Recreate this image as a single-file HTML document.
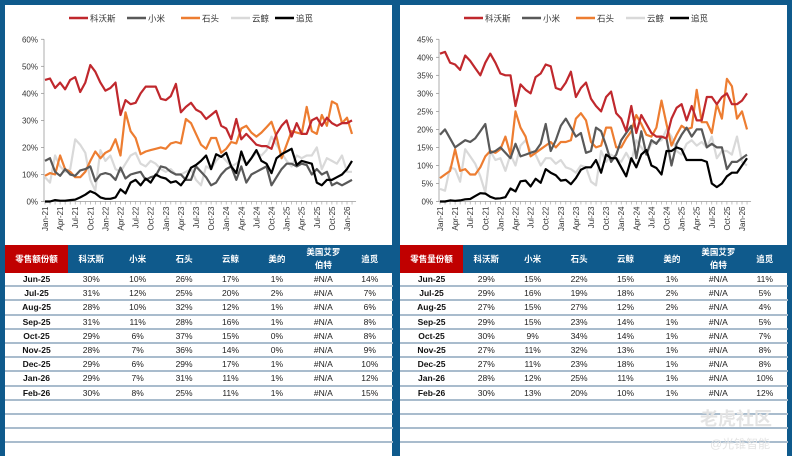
<!DOCTYPE html>
<html><head><meta charset="utf-8">
<style>
body{margin:0;width:792px;height:456px;background:#0f5a8c;position:relative;overflow:hidden;font-family:"Liberation Sans","Noto Sans CJK SC",sans-serif}
.panel{position:absolute;top:5px;width:387px;height:451px;background:#fff}
svg{position:absolute;left:0;top:0}
table{position:absolute;top:240px;left:0;width:388px;border-collapse:collapse;font-size:8.5px;color:#222;table-layout:fixed}
th{background:#0f5a8c;color:#fff;font-weight:bold;height:28px;font-size:8.5px;line-height:13px;padding:0}
th.first{background:#c00000}
td{text-align:center;height:12.2px;padding:0;border-bottom:2px solid #a9bccd;white-space:nowrap}
td.d{font-weight:bold;color:#111}
.wm{position:absolute;color:#e3e3e3;font-family:"Liberation Sans","Noto Sans CJK SC",sans-serif}
</style></head><body>
<div class="panel" style="left:5px">
<svg id="c1" width="387" height="240"></svg>
<table>
<colgroup><col style="width:63px"><col style="width:46.4px"><col style="width:46.4px"><col style="width:46.4px"><col style="width:46.4px"><col style="width:46.4px"><col style="width:46.4px"><col style="width:46.4px"></colgroup>
<tr><th class="first">零售额份额</th><th>科沃斯</th><th>小米</th><th>石头</th><th>云鲸</th><th>美的</th><th>美国艾罗<br>伯特</th><th>追觅</th></tr>
<tr><td class="d">Jun-25</td><td>30%</td><td>10%</td><td>26%</td><td>17%</td><td>1%</td><td>#N/A</td><td>14%</td></tr>
<tr><td class="d">Jul-25</td><td>31%</td><td>12%</td><td>25%</td><td>20%</td><td>2%</td><td>#N/A</td><td>7%</td></tr>
<tr><td class="d">Aug-25</td><td>28%</td><td>10%</td><td>32%</td><td>12%</td><td>1%</td><td>#N/A</td><td>6%</td></tr>
<tr><td class="d">Sep-25</td><td>31%</td><td>11%</td><td>28%</td><td>16%</td><td>1%</td><td>#N/A</td><td>8%</td></tr>
<tr><td class="d">Oct-25</td><td>29%</td><td>6%</td><td>37%</td><td>15%</td><td>0%</td><td>#N/A</td><td>8%</td></tr>
<tr><td class="d">Nov-25</td><td>28%</td><td>7%</td><td>36%</td><td>14%</td><td>0%</td><td>#N/A</td><td>9%</td></tr>
<tr><td class="d">Dec-25</td><td>29%</td><td>6%</td><td>29%</td><td>17%</td><td>1%</td><td>#N/A</td><td>10%</td></tr>
<tr><td class="d">Jan-26</td><td>29%</td><td>7%</td><td>31%</td><td>11%</td><td>1%</td><td>#N/A</td><td>12%</td></tr>
<tr><td class="d">Feb-26</td><td>30%</td><td>8%</td><td>25%</td><td>11%</td><td>1%</td><td>#N/A</td><td>15%</td></tr>
<tr><td colspan="8"></td></tr><tr><td colspan="8"></td></tr><tr><td colspan="8"></td></tr>
</table>
</div>
<div class="panel" style="left:400px">
<svg id="c2" width="387" height="240"></svg>
<table>
<colgroup><col style="width:63px"><col style="width:46.4px"><col style="width:46.4px"><col style="width:46.4px"><col style="width:46.4px"><col style="width:46.4px"><col style="width:46.4px"><col style="width:46.4px"></colgroup>
<tr><th class="first">零售量份额</th><th>科沃斯</th><th>小米</th><th>石头</th><th>云鲸</th><th>美的</th><th>美国艾罗<br>伯特</th><th>追觅</th></tr>
<tr><td class="d">Jun-25</td><td>29%</td><td>15%</td><td>22%</td><td>15%</td><td>1%</td><td>#N/A</td><td>11%</td></tr>
<tr><td class="d">Jul-25</td><td>29%</td><td>16%</td><td>19%</td><td>18%</td><td>2%</td><td>#N/A</td><td>5%</td></tr>
<tr><td class="d">Aug-25</td><td>27%</td><td>15%</td><td>27%</td><td>12%</td><td>2%</td><td>#N/A</td><td>4%</td></tr>
<tr><td class="d">Sep-25</td><td>29%</td><td>15%</td><td>23%</td><td>14%</td><td>1%</td><td>#N/A</td><td>5%</td></tr>
<tr><td class="d">Oct-25</td><td>30%</td><td>9%</td><td>34%</td><td>14%</td><td>1%</td><td>#N/A</td><td>7%</td></tr>
<tr><td class="d">Nov-25</td><td>27%</td><td>11%</td><td>32%</td><td>13%</td><td>1%</td><td>#N/A</td><td>8%</td></tr>
<tr><td class="d">Dec-25</td><td>27%</td><td>11%</td><td>23%</td><td>18%</td><td>1%</td><td>#N/A</td><td>8%</td></tr>
<tr><td class="d">Jan-26</td><td>28%</td><td>12%</td><td>25%</td><td>11%</td><td>1%</td><td>#N/A</td><td>10%</td></tr>
<tr><td class="d">Feb-26</td><td>30%</td><td>13%</td><td>20%</td><td>10%</td><td>1%</td><td>#N/A</td><td>12%</td></tr>
<tr><td colspan="8"></td></tr><tr><td colspan="8"></td></tr><tr><td colspan="8"></td></tr>
</table>
<div class="wm" style="left:300px;top:400px;font-size:18px;font-weight:bold">老虎社区</div>
<div class="wm" style="left:310px;top:430px;font-size:12px">@光锥智能</div>
</div>
<script>
const months=[];const mn=["Jan","Feb","Mar","Apr","May","Jun","Jul","Aug","Sep","Oct","Nov","Dec"];
for(let y=21;y<=26;y++)for(let m=0;m<12;m++){if(y===26&&m>1)break;months.push(mn[m]+"-"+y);}
const seriesNames=["科沃斯","小米","石头","云鲸","追觅"];
const seriesColors=["#c0282d","#595959","#ed7d31","#d9d9d9","#000000"];
const ticks1=[0,10,20,30,40,50,60];
const ticks2=[0,5,10,15,20,25,30,35,40,45];
const sales_ecovacs=[45,45.5,42,44,41.5,45,46,40.5,44,50.5,48,44,41,42,44,32,37.5,36,36.5,40,42.5,42.5,42.5,38,37.5,39,43.5,33,35,36.5,34,33,30.5,32,33.5,28,27,23,30.5,23,25,23,21,20.5,20.5,19.5,25,28,30,24,29,25,25,30,31,28,31,29,28,29,29,30];
const sales_xiaomi=[15,16,11,9.5,12,10,9.5,11.5,12,13,7.5,10,10.5,10,8,12.5,8.5,10,10.5,11,8,9,9.5,13,12.5,11,10,10,8,8,13,11,9,6,7,10,12,13,8,13,7,10,11,12,13,6,9,12,14,14,13,14,13.5,10,12,10,11,6,7,6,7,8];
const sales_roborock=[9.5,10.5,10,17,12,11,9,9,11,15,18.5,16,18,19,23,17,33,26,23.5,17.5,18.5,19,19.5,20,19.5,21.5,22,21.5,30.5,29,25,21,19.5,23.5,23.5,18,19.5,22,21.5,27,28,25.5,24,25.5,27.5,29.5,24,16,21,26,25.5,25,35,26,25,32,28,37,36,29,31,25];
const sales_narwal=[9,7,17,13,11,12,23,21,18,8,4,19,15,17,12,11,14,17,18,14,13,15,14,12,11,12,10,10,11,12,8,6,13,12,15,17,15,13,14,16,14,16,18,17,19,24,21,18,15,13,17,16,17,17,20,12,16,15,14,17,11,11];
const sales_dreame=[0,0,0.5,0.3,0.3,0.5,0.7,1.5,2.5,3.8,3,1.5,1,1,1.5,4.5,3,7,8,6,8.5,7,10,9,8.5,7,7.5,6,8.5,12.5,13.5,15,17,12,17.5,16.5,18,13,10.5,18.5,13.5,16,19,15,14,10.5,16,17.5,18.5,19.5,13.5,15,14.5,14,7,6,8,8,9,10,12,15];
const vol_ecovacs=[41,41.5,38.5,38,36.5,40.5,39,37,35,38.5,41,38.5,35.5,35,35,26.5,32.5,31,30,34.5,35.5,38,37.5,31.5,31,33,36,29,31.5,33,28.5,26.5,25,29,30.5,24.5,23,19.5,26.5,19,24,21.5,19,18,18,17.5,23,26,27,22.5,26.5,22.5,22.5,29,29,27,29,30,27,27,28,30];
const vol_xiaomi=[18.5,20,17.5,15,16,17,16.5,17.5,19.5,21.5,13.5,14,15,13.5,12,16,12.5,13,13.5,14,16,21.5,14,17,21,23,20.5,18,19,13.5,14,20.5,19.5,15.5,11,13,17,19,21,12,19.5,13,17,16,18,17.5,10,16,18.5,20.5,18,20,20,15,16,15,15,9,11,11,12,13];
const vol_roborock=[6.5,7.5,8.5,14.5,8.5,9,7.5,7.5,9.5,12.5,14,13.5,14.5,18,13,25,20.5,18,12.5,13.5,14.5,15.5,16.5,15,16.5,16.5,17,23,24.5,22.5,16.5,15,15.5,20.5,20.5,15,15,17.5,19.5,24,21.5,18.5,18,20.5,28,21.5,15.5,18.5,21,20,20.5,31,22,22,19,27,23,34,32,23,25,20];
const vol_narwal=[3.5,3,9.5,9,5.5,14.5,12.5,10.5,7,2.5,14,11.5,12,8.5,13,10,15.5,17,14,13,10,12,12,10.5,11.5,9.5,9,8,10,9.5,5.5,4.5,14,11,13,12,11,13.5,11,17,15,13,16,16.5,17,20,18,14,13,16,17,15.5,16.5,15,18,12,14,14,13,18,11,10];
const vol_dreame=[0,0,0.3,0.2,0.3,0.6,0.7,1.5,2.3,2.2,1.3,0.8,0.9,1.2,3.6,2.8,5.6,5.8,4.2,6.3,5.2,9,8,7.3,5.8,6,4.8,6.5,8.8,9.5,9.5,11.5,8,13,12,12,9.5,7,12,9.5,13,14.3,10,9.3,7.5,14,14,15,14.5,11.5,11.5,11.5,11.5,11,5,4,5,7,8,8,10,12];
const NS="http://www.w3.org/2000/svg";
function mk(p,t,a){const e=document.createElementNS(NS,t);for(const k in a)e.setAttribute(k,a[k]);p.appendChild(e);return e;}
function draw(id,series,ticks,ymax){
 const svg=document.getElementById(id);
 const x0=40,x1=342,yb=196.5,yt=34.3;
 const X=i=>x0+i*(x1-x0)/60;
 const Y=v=>yb-v/ymax*(yb-yt);
 const lx=[64,122,176,226,270];
 seriesNames.forEach((n,i)=>{
  const l=mk(svg,"line",{x1:lx[i],x2:lx[i]+19,y1:13,y2:13,stroke:seriesColors[i],"stroke-width":2.5});
  
  
  const t=mk(svg,"text",{x:lx[i]+21,y:16.5,"font-size":"8.5px",fill:"#333"});t.textContent=n;
  
  
 });
 const ya=mk(svg,"line",{x1:x0-1,x2:x0-1,y1:yt,y2:yb,stroke:"#999","stroke-width":0.8});
 
 
 ticks.forEach(v=>{
  mk(svg,"line",{x1:x0-4,x2:x0-1,y1:Y(v),y2:Y(v),stroke:"#999","stroke-width":0.8});
  const t=mk(svg,"text",{x:x0-7,y:Y(v)+3,"font-size":"8px","text-anchor":"end",fill:"#333"});t.textContent=v+"%";
  
  
 });
 const xa=mk(svg,"line",{x1:x0-1,x2:X(61)+4,y1:yb,y2:yb,stroke:"#999","stroke-width":0.8});
 
 
 months.forEach((m,i)=>{
  mk(svg,"line",{x1:X(i),x2:X(i),y1:yb,y2:yb+3,stroke:"#999","stroke-width":0.6});
  if(i%3===0){
   const t=mk(svg,"text",{x:0,y:0,"font-size":"8px","text-anchor":"end",fill:"#333",transform:`translate(${X(i)+3},${yb+5}) rotate(-90)`});t.textContent=m;
   
   
  }
 });
 [3,2,1,0,4].forEach(si=>{
  const d=series[si].map((v,i)=>(i?"L":"M")+X(i).toFixed(1)+","+Y(v).toFixed(1)).join("");
  const p=mk(svg,"path",{d:d,fill:"none",stroke:seriesColors[si],"stroke-width":2.2,"stroke-linejoin":"round"});
  
  
 });
}
draw("c1",[sales_ecovacs,sales_xiaomi,sales_roborock,sales_narwal,sales_dreame],ticks1,60);
draw("c2",[vol_ecovacs,vol_xiaomi,vol_roborock,vol_narwal,vol_dreame],ticks2,45);
</script>
</body></html>
